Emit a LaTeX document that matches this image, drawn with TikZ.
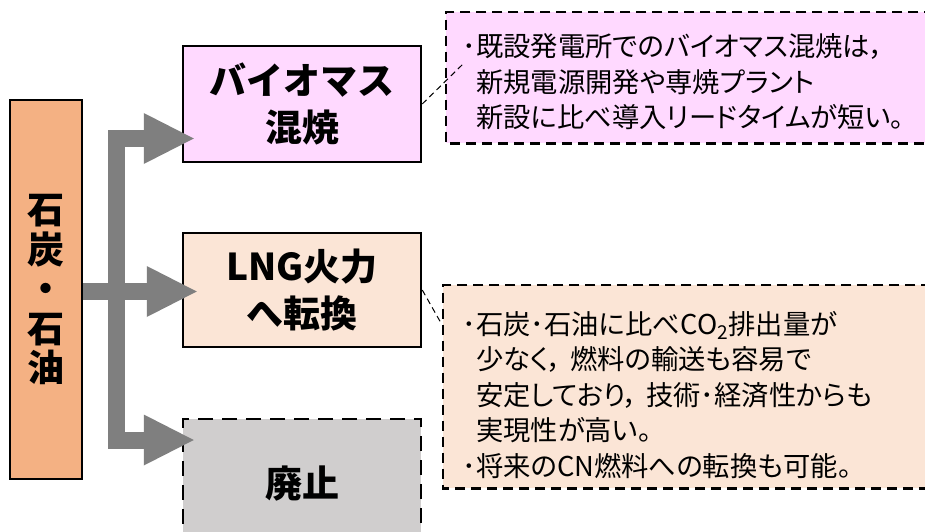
\documentclass[tikz,border=0pt]{standalone}
\usepackage{fontspec}
\newfontfamily\jp{Noto Sans CJK JP}
\newfontfamily\jpp{Noto Sans CJK JP}[RawFeature=+palt]
\usetikzlibrary{arrows.meta}
\definecolor{srcorange}{HTML}{F4B183}
\definecolor{biopink}{HTML}{FFD9FF}
\definecolor{lngpeach}{HTML}{FBE5D6}
\definecolor{haigray}{HTML}{D0CECE}
\definecolor{arrowgray}{HTML}{7F7F7F}
\begin{document}
\begin{tikzpicture}[x=1pt,y=-1pt,
  srcbox/.style={draw=black, line width=2.5pt, fill=srcorange, minimum width=72pt, minimum height=379pt, inner sep=0pt, align=center, font=\jp\bfseries\fontsize{37}{39.5}\selectfont},
  mainbox/.style={draw=black, line width=2.5pt, minimum width=238pt, inner sep=0pt, align=center, font=\jp\bfseries\fontsize{37}{47}\selectfont},
  notebox/.style={minimum width=520pt, inner sep=0pt, anchor=north west},
  notedash/.style={draw=black, line width=2.5pt, dash pattern=on 10pt off 6pt},
  notetext/.style={inner sep=0pt, anchor=west, align=left, font=\jpp\fontsize{27.3}{35.5}\selectfont},
  callline/.style={draw=black, line width=1pt, dash pattern=on 6pt off 4pt},
  bigarrow/.style={draw=arrowgray, line width=17pt, line join=miter, -{Triangle[length=50pt,width=51pt,line width=0pt]}}
]
\useasboundingbox (0,0) rectangle (925,532);
\clip (0,0) rectangle (925,532);
\fill[white] (0,0) rectangle (925,532);

% source
\node[srcbox] (src) at (46,289.5) {石\\炭\\・\\石\\油};

% main boxes
\node[mainbox, fill=biopink, minimum height=116pt] (bio) at (302,104) {バイオマス\\混焼};
\node[mainbox, fill=lngpeach, minimum height=114pt] (lng) at (302,290) {LNG火力\\へ転換};
\node[mainbox, fill=haigray, dash pattern=on 15pt off 9pt, minimum height=130pt] (hai) at (302,484) {廃止};

% note boxes (open to the right: they run past the picture's edge)
\node[notebox, fill=biopink, minimum height=131pt] (note1) at (446,12) {};
\node[notebox, fill=lngpeach, minimum height=203pt] (note2) at (443,285) {};
\draw[notedash] (note1.north east) -- (note1.north west) -- (note1.south west) -- (note1.south east);
\draw[notedash] (note2.north east) -- (note2.north west) -- (note2.south west) -- (note2.south east);

\node[notetext] (txt1) at (476,82) {\llap{･}既設発電所でのバイオマス混焼は，\\新規電源開発や専焼プラント\\新設に比べ導入リードタイムが短い。};
\node[notetext] (txt2) at (476,395) {\llap{･}石炭･石油に比べCO\textsubscript{2}排出量が\\少なく，\hspace{0.3em}燃料の輸送も容易で\\安定しており，\hspace{0.3em}技術･経済性からも\\実現性が高い。\\\llap{･}将来のCN燃料への転換も可能。};

% callout connectors
\coordinate (c1) at (463,64);
\coordinate (c2) at (441,323);
\draw[callline] (bio.east) -- (c1);
\draw[callline] (lng.east) -- (c2);

% arrows
\coordinate (b1) at ([xshift=12pt,yshift=-34.5pt]bio.west);
\coordinate (b2) at ([xshift=15pt,yshift=-1.5pt]lng.west);
\coordinate (b3) at ([xshift=12pt,yshift=44pt]hai.west);
\coordinate (trunk) at (116.5,291.5);
\draw[bigarrow] (src.east |- b2) -- (b2);
\draw[bigarrow] (trunk) -- (trunk |- b1) -- (b1);
\draw[bigarrow] (trunk) -- (trunk |- b3) -- (b3);
\end{tikzpicture}
\end{document}
